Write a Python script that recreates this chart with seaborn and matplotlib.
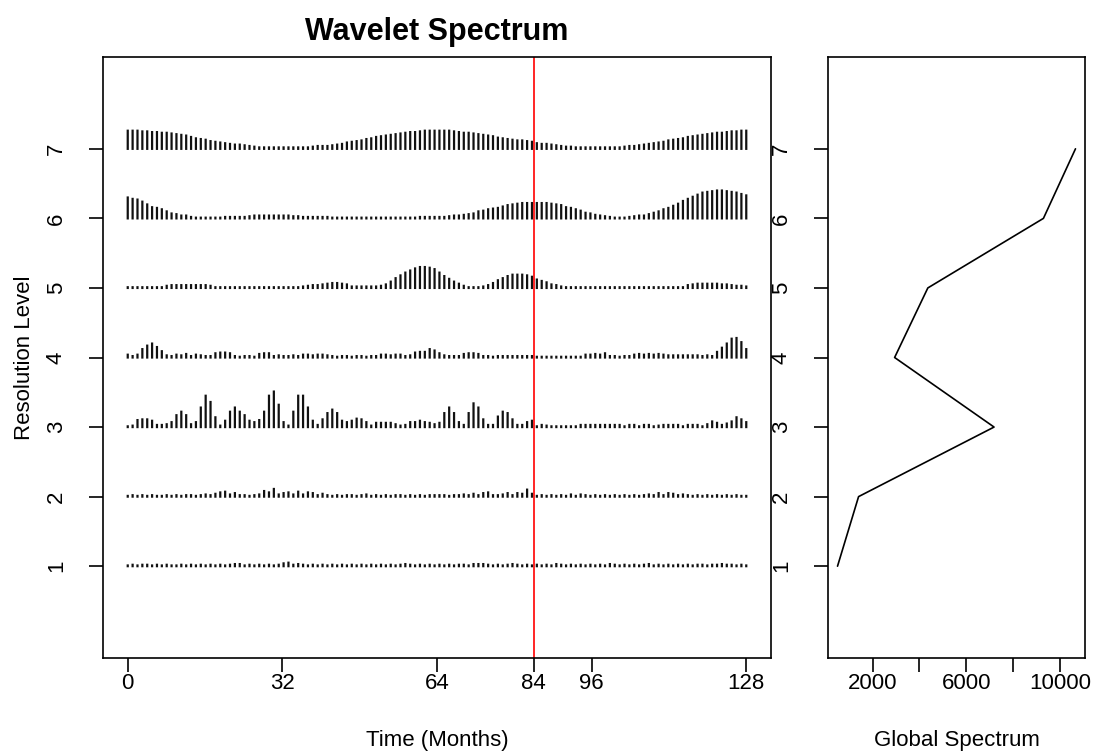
import numpy as np
import pandas as pd
import matplotlib
matplotlib.use("Agg")
import matplotlib.pyplot as plt
import seaborn as sns

# ---------------- data ----------------
levels = [1, 2, 3, 4, 5, 6, 7]

level1 = [0.01,0.02,0.01,0.02,0.02,0.01,0.02,0.01,0.02,0.01,0.01,0.02,0.01,0.02,0.01,0.02,
          0.01,0.02,0.01,0.02,0.01,0.02,0.03,0.03,0.01,0.02,0.01,0.02,0.01,0.02,0.01,0.02,
          0.04,0.05,0.02,0.03,0.02,0.01,0.02,0.01,0.02,0.01,0.02,0.01,0.02,0.01,0.02,0.01,
          0.02,0.01,0.02,0.01,0.02,0.01,0.02,0.01,0.02,0.03,0.02,0.01,0.02,0.01,0.02,0.01,
          0.02,0.01,0.02,0.01,0.02,0.02,0.01,0.03,0.03,0.03,0.02,0.01,0.02,0.01,0.02,0.03,
          0.02,0.01,0.02,0.01,0.02,0.01,0.02,0.01,0.03,0.02,0.01,0.02,0.01,0.02,0.01,0.02,
          0.01,0.02,0.01,0.03,0.02,0.01,0.02,0.01,0.02,0.01,0.02,0.03,0.01,0.02,0.01,0.02,
          0.01,0.02,0.01,0.02,0.01,0.02,0.02,0.01,0.02,0.02,0.03,0.02,0.02,0.01,0.02,0.01]

level2 = [0.01,0.02,0.01,0.02,0.01,0.02,0.01,0.01,0.02,0.01,0.02,0.01,0.02,0.02,0.01,0.02,
          0.03,0.02,0.04,0.06,0.07,0.03,0.05,0.02,0.02,0.01,0.02,0.03,0.08,0.06,0.11,0.03,
          0.05,0.06,0.03,0.07,0.03,0.06,0.05,0.02,0.04,0.02,0.01,0.02,0.01,0.02,0.02,0.01,
          0.02,0.03,0.01,0.02,0.01,0.02,0.01,0.02,0.02,0.01,0.02,0.01,0.02,0.01,0.02,0.02,
          0.02,0.02,0.01,0.02,0.02,0.03,0.02,0.04,0.02,0.05,0.06,0.02,0.02,0.03,0.05,0.02,
          0.05,0.04,0.10,0.04,0.01,0.02,0.01,0.02,0.01,0.02,0.01,0.03,0.01,0.03,0.02,0.01,
          0.02,0.01,0.02,0.01,0.02,0.01,0.02,0.01,0.02,0.01,0.02,0.03,0.02,0.05,0.02,0.05,
          0.04,0.02,0.03,0.02,0.01,0.02,0.01,0.02,0.01,0.02,0.01,0.02,0.01,0.02,0.01,0.01]

level3 = [0.01,0.02,0.10,0.11,0.11,0.09,0.03,0.03,0.04,0.07,0.17,0.22,0.17,0.04,0.07,0.28,
          0.45,0.36,0.14,0.02,0.09,0.22,0.28,0.22,0.17,0.09,0.07,0.10,0.22,0.45,0.51,0.32,
          0.07,0.02,0.22,0.45,0.45,0.28,0.09,0.03,0.11,0.20,0.25,0.20,0.09,0.07,0.09,0.12,
          0.11,0.07,0.02,0.06,0.06,0.06,0.06,0.04,0.02,0.03,0.07,0.07,0.09,0.07,0.06,0.04,
          0.06,0.20,0.28,0.20,0.07,0.03,0.20,0.34,0.28,0.11,0.03,0.03,0.15,0.22,0.20,0.11,
          0.03,0.03,0.07,0.09,0.01,0.03,0.02,0.01,0.01,0.01,0.01,0.01,0.01,0.03,0.03,0.03,
          0.03,0.03,0.03,0.03,0.03,0.03,0.01,0.03,0.03,0.01,0.03,0.03,0.01,0.02,0.03,0.03,
          0.03,0.03,0.01,0.03,0.03,0.03,0.01,0.04,0.08,0.06,0.03,0.05,0.08,0.14,0.11,0.07]

level4 = [0.04,0.02,0.04,0.12,0.17,0.20,0.15,0.09,0.03,0.02,0.04,0.03,0.05,0.02,0.04,0.03,
          0.02,0.02,0.06,0.07,0.07,0.06,0.02,0.01,0.02,0.02,0.01,0.05,0.06,0.06,0.02,0.03,
          0.02,0.02,0.03,0.02,0.04,0.04,0.03,0.04,0.04,0.03,0.02,0.01,0.02,0.02,0.01,0.02,
          0.02,0.01,0.02,0.02,0.04,0.04,0.03,0.04,0.04,0.02,0.03,0.07,0.08,0.08,0.12,0.10,
          0.06,0.03,0.02,0.02,0.02,0.05,0.06,0.06,0.05,0.02,0.02,0.01,0.02,0.02,0.02,0.02,
          0.02,0.02,0.02,0.02,0.01,0.01,0.01,0.01,0.01,0.01,0.01,0.01,0.01,0.01,0.04,0.04,
          0.05,0.04,0.06,0.02,0.02,0.01,0.02,0.02,0.04,0.05,0.04,0.05,0.04,0.05,0.04,0.03,
          0.03,0.03,0.03,0.03,0.03,0.03,0.02,0.03,0.02,0.08,0.14,0.20,0.27,0.28,0.22,0.12]

level5 = [0.01,0.01,0.01,0.01,0.01,0.01,0.01,0.01,0.03,0.04,0.04,0.04,0.04,0.04,0.04,0.04,
          0.04,0.03,0.01,0.01,0.01,0.01,0.01,0.01,0.01,0.01,0.01,0.01,0.01,0.01,0.01,0.01,
          0.01,0.01,0.01,0.01,0.02,0.03,0.04,0.04,0.05,0.06,0.07,0.07,0.06,0.05,0.02,0.02,
          0.02,0.02,0.02,0.02,0.03,0.05,0.09,0.14,0.18,0.22,0.25,0.28,0.30,0.30,0.29,0.27,
          0.22,0.17,0.13,0.09,0.06,0.03,0.01,0.01,0.01,0.02,0.04,0.07,0.11,0.14,0.17,0.19,
          0.19,0.19,0.18,0.16,0.12,0.10,0.08,0.05,0.04,0.02,0.01,0.01,0.01,0.01,0.01,0.01,
          0.01,0.01,0.01,0.01,0.01,0.01,0.01,0.01,0.01,0.01,0.01,0.01,0.01,0.01,0.01,0.01,
          0.01,0.01,0.01,0.04,0.05,0.06,0.06,0.06,0.06,0.06,0.05,0.05,0.04,0.03,0.03,0.02]

level6 = [0.30,0.28,0.27,0.24,0.20,0.16,0.15,0.13,0.10,0.07,0.06,0.04,0.04,0.02,0.01,0.01,
          0.01,0.01,0.01,0.01,0.02,0.02,0.02,0.02,0.02,0.03,0.04,0.04,0.04,0.04,0.04,0.04,
          0.04,0.04,0.03,0.03,0.02,0.02,0.02,0.02,0.02,0.02,0.01,0.01,0.01,0.01,0.01,0.01,
          0.01,0.01,0.01,0.01,0.01,0.01,0.01,0.01,0.01,0.01,0.01,0.01,0.02,0.02,0.02,0.02,
          0.02,0.02,0.03,0.04,0.04,0.05,0.06,0.07,0.10,0.11,0.13,0.14,0.15,0.17,0.19,0.20,
          0.21,0.22,0.22,0.22,0.22,0.22,0.22,0.21,0.20,0.19,0.16,0.15,0.13,0.11,0.08,0.07,
          0.05,0.04,0.03,0.02,0.01,0.01,0.01,0.02,0.03,0.04,0.04,0.06,0.08,0.10,0.13,0.15,
          0.18,0.21,0.25,0.28,0.31,0.34,0.37,0.38,0.39,0.40,0.40,0.39,0.38,0.37,0.35,0.33]

level7 = [0.26,0.26,0.26,0.25,0.25,0.24,0.24,0.23,0.23,0.22,0.21,0.20,0.19,0.17,0.15,0.14,
          0.13,0.11,0.10,0.09,0.08,0.07,0.06,0.06,0.05,0.04,0.03,0.02,0.02,0.02,0.02,0.02,
          0.02,0.02,0.02,0.02,0.02,0.02,0.03,0.04,0.04,0.04,0.05,0.06,0.07,0.09,0.10,0.11,
          0.12,0.14,0.15,0.17,0.18,0.19,0.20,0.21,0.22,0.23,0.24,0.24,0.25,0.26,0.26,0.26,
          0.26,0.26,0.26,0.25,0.24,0.23,0.23,0.22,0.21,0.20,0.19,0.18,0.16,0.15,0.14,0.13,
          0.12,0.12,0.11,0.10,0.08,0.07,0.07,0.06,0.05,0.04,0.03,0.03,0.02,0.02,0.02,0.02,
          0.02,0.02,0.02,0.02,0.02,0.02,0.03,0.04,0.04,0.05,0.06,0.07,0.08,0.09,0.10,0.12,
          0.13,0.14,0.15,0.17,0.18,0.19,0.20,0.21,0.22,0.23,0.23,0.24,0.25,0.25,0.26,0.26]

global_spectrum = [500, 1400, 7190, 2940, 4360, 9300, 10670]

time_ticks = [0, 32, 64, 84, 96, 128]
event_month = 84
spectrum_ticks = [2000, 4000, 6000, 8000, 10000]
spectrum_labels = ["2000", "", "6000", "", "10000"]

# ---------------- style ----------------
sns.set_theme(style="ticks")
plt.rcParams['font.family'] = ['Liberation Sans', 'DejaVu Sans']
plt.rcParams['text.color'] = 'black'
plt.rcParams['axes.labelcolor'] = 'black'
plt.rcParams['xtick.color'] = 'black'
plt.rcParams['ytick.color'] = 'black'
plt.rcParams['axes.edgecolor'] = 'black'

FS = 16

fig = plt.figure(figsize=(10.93, 7.54), dpi=100)
W, H = 1093, 754
ax1 = fig.add_axes([103 / W, (H - 658) / H, 668 / W, 601 / H])
ax2 = fig.add_axes([828 / W, (H - 658) / H, 257 / W, 601 / H])

# ---------------- left panel: wavelet spectrum ----------------
series = [level1, level2, level3, level4, level5, level6, level7]
n = len(level1)
months = np.linspace(0, 128, n)
for lev, vals in zip(levels, series):
    ax1.vlines(months, lev, lev + np.asarray(vals), color='#111111', lw=1.6,
               capstyle='projecting', snap=False)
ax1.axvline(event_month, color='red', lw=1.2)

ax1.set_xlim(-0.04 * 128, 128 * 1.04)
ax1.set_ylim(0 - 0.04 * 8, 8 * 1.04)
ax1.set_xticks(time_ticks)
ax1.set_yticks(levels)
ax1.set_xlabel("Time (Months)", fontsize=FS, labelpad=26)
ax1.set_ylabel("Resolution Level", fontsize=FS, labelpad=8)
ax1.set_title("Wavelet Spectrum", fontsize=22, fontweight='bold', pad=12)

# ---------------- right panel: global spectrum ----------------
gdf = pd.DataFrame({"power": global_spectrum, "level": levels})
sns.lineplot(data=gdf, x="power", y="level", sort=False, color='black', lw=1.2,
             ax=ax2, estimator=None)
rng = max(global_spectrum) - min(global_spectrum)
ax2.set_xlim(min(global_spectrum) - 0.04 * rng, max(global_spectrum) + 0.04 * rng)
ax2.set_ylim(0 - 0.04 * 8, 8 * 1.04)
ax2.set_xticks(spectrum_ticks)
ax2.set_xticklabels(spectrum_labels)
ax2.set_yticks(levels)
ax2.set_xlabel("Global Spectrum", fontsize=FS, labelpad=26)
ax2.set_ylabel("")

for ax in (ax1, ax2):
    for s in ax.spines.values():
        s.set_visible(True)
        s.set_linewidth(1.2)
        s.set_color('black')
    ax.tick_params(axis='both', which='major', direction='out', length=10, width=1.2,
                   labelsize=FS)
    ax.tick_params(axis='x', pad=1)
    ax.tick_params(axis='y', pad=16)
    for lab in ax.get_yticklabels():
        lab.set_rotation(90)
        lab.set_va('center')
    ax.grid(False)

fig.savefig("out.png", dpi=100)
